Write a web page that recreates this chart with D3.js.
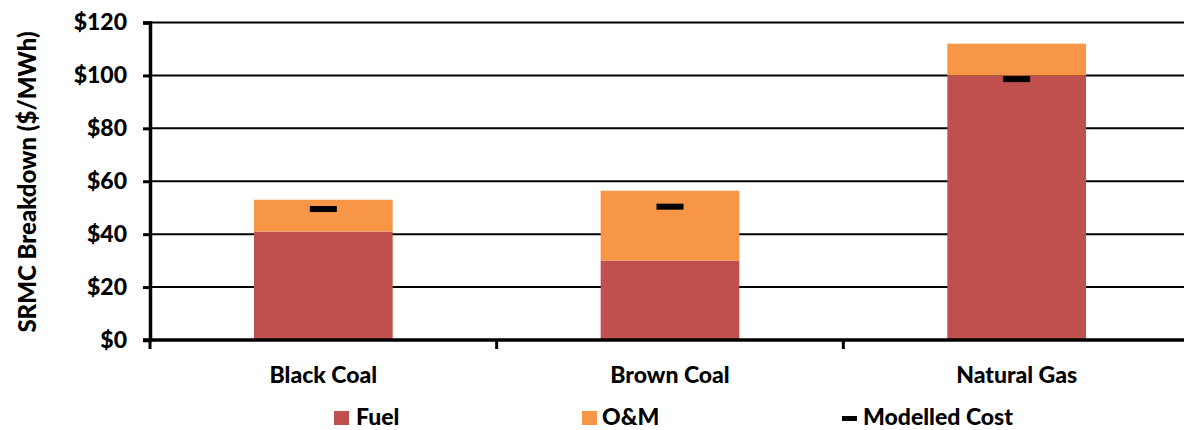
<!DOCTYPE html>
<html><head><meta charset="utf-8">
<script src="https://cdn.jsdelivr.net/npm/d3@7"></script>
<style>body{margin:0;background:#fff;} text{font-family:"Lato","Open Sans",sans-serif;font-weight:900;}</style>
</head><body><svg id="c" width="1184" height="430"></svg>
<script>
const categories = ["Black Coal","Brown Coal","Natural Gas"];
const fuel = [41, 30, 100];
const om = [12, 26.4, 12];
const modelled = [49.5, 50.4, 98.6];
const yTicks = [0,20,40,60,80,100,120];
const yTickLabels = ["$0","$20","$40","$60","$80","$100","$120"];
const seriesNames = ["Fuel","O&M","Modelled Cost"];
const colors = {fuel:"#C0504D", om:"#F79646"};
const FS = 23;

const svg = d3.select("#c");
const x = d3.scaleBand().domain(categories).range([150,1190]).padding(0);
const y = d3.scaleLinear().domain([0,120]).range([340,22.5]);
const barW = x.bandwidth()*0.4;

// gridlines
svg.append("g").selectAll("line").data(yTicks.filter(d=>d>0)).join("line")
  .attr("x1",150).attr("x2",1184).attr("y1",d=>y(d)).attr("y2",d=>y(d))
  .attr("stroke","#000").attr("stroke-width",2);

// bars
const g = svg.append("g");
categories.forEach((c,i)=>{
  const cx = x(c)+x.bandwidth()/2;
  g.append("rect").attr("x",cx-barW/2).attr("width",barW)
    .attr("y",y(fuel[i])).attr("height",y(0)-y(fuel[i])).attr("fill",colors.fuel);
  g.append("rect").attr("x",cx-barW/2).attr("width",barW)
    .attr("y",y(fuel[i]+om[i])).attr("height",y(fuel[i])-y(fuel[i]+om[i])).attr("fill",colors.om);
  g.append("rect").attr("x",cx-13.5).attr("width",27)
    .attr("y",y(modelled[i])-3).attr("height",6).attr("fill","#000");
});

// y axis
const yAxis = d3.axisLeft(y).tickValues(yTicks).tickFormat((d,i)=>yTickLabels[i]).tickSize(7).tickPadding(16);
const ya = svg.append("g").attr("transform","translate(150,0)").call(yAxis);
ya.select(".domain").attr("stroke","#000").attr("stroke-width",3.5);
ya.selectAll(".tick line").attr("stroke","#000").attr("stroke-width",3);
ya.selectAll(".tick text").attr("font-size",FS).attr("fill","#000")
  .attr("font-family","Lato, sans-serif").attr("font-weight","900");

// x axis
const xa = svg.append("g").attr("transform","translate(0,340)");
xa.append("line").attr("x1",143).attr("x2",1184).attr("y1",0).attr("y2",0).attr("stroke","#000").attr("stroke-width",3.5);
const bounds = [150, ...categories.map(c=>x(c)+x.bandwidth())].filter(v=>v<1184);
xa.selectAll("line.t").data(bounds).join("line").attr("class","t")
  .attr("x1",d=>d).attr("x2",d=>d).attr("y1",0).attr("y2",9).attr("stroke","#000").attr("stroke-width",3);
xa.selectAll("text").data(categories).join("text")
  .attr("x",d=>x(d)+x.bandwidth()/2).attr("y",43).attr("text-anchor","middle")
  .attr("font-size",FS).attr("fill","#000").text(d=>d);

// y title
svg.append("text").attr("transform","translate(36,182) rotate(-90)").attr("text-anchor","middle")
  .attr("font-size",FS+1).attr("fill","#000").text("SRMC Breakdown ($/MWh)");

// legend
const leg = svg.append("g");
const lx = [334, 582, 842];
leg.append("rect").attr("x",lx[0]).attr("y",411).attr("width",15).attr("height",14).attr("fill",colors.fuel);
leg.append("rect").attr("x",lx[1]).attr("y",411).attr("width",15).attr("height",14).attr("fill",colors.om);
leg.append("rect").attr("x",lx[2]).attr("y",416).attr("width",15).attr("height",5).attr("fill","#000");
const ltx = [356, 602, 863];
leg.selectAll("text").data(seriesNames).join("text")
  .attr("x",(d,i)=>ltx[i]).attr("y",425).attr("font-size",FS).attr("fill","#000").text(d=>d);
</script></body></html>
